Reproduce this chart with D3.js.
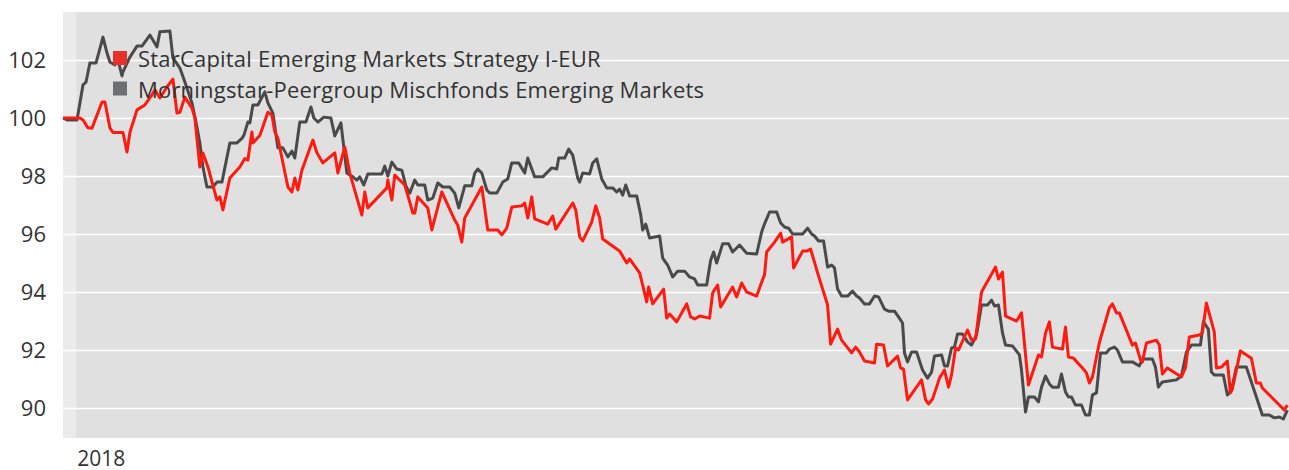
<!DOCTYPE html>
<html lang="de">
<head>
<meta charset="UTF-8">
<script src="https://cdn.jsdelivr.net/npm/d3@7"></script>
<style>
  body { margin: 0; background: #fff; }
  svg text { font-family: "Open Sans", "Noto Sans", sans-serif; fill: #333; }
  .line { fill: none; stroke-width: 3px; stroke-linejoin: round; }
</style>
</head>
<body>
<script>
// Tage seit dem Startdatum (28.12.2017) und Indexwerte (Start = 100)
var startDate = new Date(2017, 11, 28);
var endDate = new Date(2018, 11, 31);
var yearTicks = ["2018"];
var yTicks = [90, 92, 94, 96, 98, 100, 102];
var seriesNames = ["StarCapital Emerging Markets Strategy I-EUR", "Morningstar-Peergroup Mischfonds Emerging Markets"];

var starDays = [0,5.1,6,7.5,8.7,11.7,12.6,14.1,15,18,19.2,20.1,22.2,24.6,26.7,27.6,29.1,31.2,33,34.2,35.1,36.6,38.7,39.6,41.1,42,43.5,46.2,47.1,48,50.1,53.1,54.6,55.5,56.7,57,59.1,61.5,62.7,63.6,64.5,67.5,68.7,69.6,70.5,71.7,75,76.2,78,81.6,82.5,84.6,86.1,89.7,90.6,91.5,97.2,97.5,98.7,99.6,102.6,104.1,105,105.6,106.5,109.5,110.7,113.7,117.6,118.5,119.7,120.6,125.7,127.5,130.5,131.7,133.2,134.7,137.7,138.6,139.5,140.7,141.6,145.5,147,147.9,153,153.9,155.1,156,158.7,159.9,161.1,162,166.2,167.1,169.2,170.1,173.1,174,175.2,175.8,177,180.3,181.2,182.1,184.2,187.2,188.4,189.6,191.1,194.1,195,196.5,197.4,201,202.2,203.7,205.2,208.2,209.7,210.6,211.2,213.6,215.4,216,218.7,219.3,222,223.2,224.4,226.5,229.5,230.4,232.5,233.7,236.7,237.9,239.1,240.6,243.6,244.2,246.3,247.5,250.5,251.4,252.3,253.5,257.7,258.9,259.8,261,262.2,263.1,264.6,265.8,266.7,267.9,268.8,271.5,272.7,273.9,275.7,279.9,280.8,282,282.9,286.2,287.7,289.8,292.8,293.7,294.9,296.1,297,300,300.9,301.8,303.3,306,307.2,308.1,309,311.1,314.1,315,316.2,317.1,321,321.9,323.4,324,325.2,328.2,329.1,330,331.5,335.7,336.9,338.1,341.1,342,343.2,345.6,346.2,347.7,349.5,350.4,351,353.4,356.7,358.2,359.4,360,366.6,367.5];
var starValues = [100,100,99.93,99.66,99.65,100.55,100.55,99.66,99.5,99.5,98.83,99.5,100.28,100.45,100.8,100.97,100.69,101.07,101.34,100.17,100.2,100.72,100.34,100,98.31,98.79,98.31,97.17,97.28,96.83,97.93,98.31,98.6,98.55,99.52,99.14,99.4,100.2,100.1,99.52,99.3,97.62,97.45,97.93,97.52,98.2,99.24,98.8,98.45,98.8,98.1,99,98.1,96.65,97.45,96.9,97.59,97.86,97.17,98.03,97.69,97.1,96.72,96.72,97.28,96.9,96.14,97.45,96.48,96.3,95.72,96.55,97.62,96.14,96.14,95.97,96.2,96.93,96.97,97.07,96.55,97.28,96.52,96.34,96.62,96.17,97.07,96.83,95.9,95.76,96.41,96.97,96.55,95.83,95.48,95.41,95,95.14,94.66,94.24,93.66,94.17,93.59,94.1,93.1,93.24,92.97,93.59,93.14,93.07,93.17,93.1,93.97,94.24,93.48,94.17,93.83,94.31,94,93.86,94.34,94.6,95.38,95.72,96.03,95.72,95.9,94.83,95.41,95.41,95.48,94.66,93.55,92.2,92.72,92.34,91.9,92.1,91.93,91.62,91.55,92.2,92.17,91.45,91.79,91.38,91.34,90.28,90.97,90.28,90.14,90.31,90.72,91.03,91.31,90.72,91.14,92.07,92,92.69,92.34,92.38,94,94.86,94.45,94.69,93.17,93,93.28,90.79,91.83,91.76,92.59,92.97,92.1,92.03,92.79,91.76,91.72,91.38,91.21,90.86,91.07,92.26,93.45,93.59,93.28,93.28,92.17,92.24,91.66,91.59,92.24,92.34,92.17,91.17,91.38,91.07,91.38,92.45,92.52,92.59,93.62,92.62,91.38,91.41,91.62,90.52,90.66,91.97,91.72,90.86,90.86,90.69,89.93,90.1];

var peerDays = [0,1.2,4.2,5.1,6,6.9,8.1,9.9,12,13.2,14.1,15.6,16.5,17.7,18,20.1,22.2,23.7,26.1,28.2,29.1,32.1,33,35.1,36.6,38.7,39.9,41.1,42,43.2,45,46.2,47.7,50.1,52.2,53.7,54.3,55.5,56.1,57,58.5,60.6,61.5,63,64.5,66,67.5,68.7,69.6,71.1,72.9,74.4,75.3,76.5,78.3,80.4,81.6,83.4,85.2,87,88.2,89.1,90.3,91.5,95.7,96.6,97.5,98.7,100.2,101.7,102.9,104.1,105.6,106.5,108.6,109.5,111,112.5,114,116.1,117.6,118.8,120.6,122.7,123.6,124.5,125.7,127.2,128.1,130.2,132,133.5,134.7,136.8,138.6,139.5,141.6,144,146.7,148.2,148.8,150.6,151.8,153,154.5,155.1,156,158.1,159,160.2,161.7,163.2,165,166.2,167.1,168,168.9,170.1,172.2,173.4,174,174.9,176.1,179.1,180,181.5,183,184.5,186.6,188.1,189.6,190.5,193.2,194.4,195.3,196.2,198,199.8,201,203.1,205.2,208.2,209.7,210.6,212.1,214.2,215.4,216.6,217.8,219,222,223.5,224.7,225.6,226.8,228.3,229.5,230.7,231.6,232.5,233.7,235.5,237,238.2,239.1,240.6,242.1,243.6,244.8,246.6,247.8,249.6,250.8,252,252.6,253.5,254.7,256.2,258,259.5,260.7,261.6,263.7,264.6,265.5,266.7,267.6,268.5,270,271.5,272.7,274.2,275.7,277.5,278.7,279.6,280.8,282,282.9,285,287.1,287.7,288.9,289.8,291.6,292.8,293.7,294.9,296.1,297,298.8,299.7,300.9,301.8,302.7,303.9,305.7,306.9,308.1,309,310.2,311.4,313.2,314.1,315.6,316.5,318,321,323.1,324,327,327.9,328.8,330,334.2,335.7,337.2,338.7,341.4,342.3,343.8,344.7,345.6,348.3,349.5,350.7,352.2,355.2,358.2,360,362.1,363.6,365.1,366.3,367.5];
var peerValues = [100,99.93,99.93,100.52,101.14,101.24,101.9,101.9,102.79,102.24,101.93,101.83,102,101.45,101.59,102.1,102.48,102.48,102.86,102.45,102.97,103,102.07,101.72,101.24,100.52,99.86,99.14,98.31,97.62,97.62,97.79,97.79,99.14,99.14,99.3,99.4,99.86,99.83,100.45,100.45,100.9,100.52,100.17,98.97,98.97,98.66,98.86,98.62,99.86,99.86,100.38,100,99.86,100.03,100,99.38,99.83,98.1,97.97,97.86,97.97,97.69,98.07,98.07,98.34,98,98.48,98.24,98.2,97.66,97.41,97.86,97.69,97.69,97.17,97.24,97.76,97.62,97.62,97.41,96.9,97.66,97.66,98.1,98.24,98.1,97.52,97.41,97.41,97.79,97.9,98.45,98.45,98.1,98.62,97.97,97.97,98.28,98.24,98.62,98.62,98.93,98.72,97.93,97.79,98.1,98.07,98.45,98.59,97.9,97.59,97.59,97.45,97.55,97.34,97.69,97.31,97.31,96.66,96.14,96.34,95.86,95.93,95.17,94.93,94.52,94.72,94.72,94.52,94.45,94.24,94.24,95.1,95.38,95,95.66,95.66,95.38,95.62,95.34,95.31,96.07,96.35,96.76,96.76,96.38,96.24,96.2,96,96,96.2,96,95.93,95.76,95.76,94.86,94.93,94.83,94.1,93.86,93.86,94.03,93.86,93.79,93.59,93.59,93.86,93.83,93.41,93.34,93.34,93.14,92.93,91.9,91.59,91.93,91.93,91.31,91.03,91.24,91.79,91.83,91.45,91.45,92.07,92.1,92.55,92.55,92.28,92.17,92.52,93.55,93.55,93.72,93.52,93.55,92.59,92.17,92.14,91.83,91.31,89.86,90.38,90.38,90.21,90.72,91.1,90.83,90.72,90.72,91.17,90.55,90.38,90.38,90.1,90.1,89.76,89.76,90.45,90.52,91.9,91.9,92.03,92.1,92,91.59,91.59,91.45,91.69,91.69,91.41,90.72,90.9,90.97,91.1,91.93,92.17,92.17,92.97,92.72,91.24,91.14,91.14,90.45,90.62,91.41,91.41,90.38,89.76,89.76,89.66,89.69,89.62,89.93];

var colors = ["#ff1a10", "#4a4a4a"];
var legendColors = ["#e8302a", "#6d6e72"];

var width = 1289, height = 470;
var plotLeft = 63, plotRight = 1289, plotTop = 12, plotBottom = 438;

var svg = d3.select("body").append("svg")
  .attr("width", width).attr("height", height);

var x = d3.scaleTime().domain([startDate, endDate]).range([plotLeft, plotRight]);
var y = d3.scaleLinear().domain([88.966, 103.655]).range([plotBottom, plotTop]);

function toDate(d) { return d3.timeHour.offset(startDate, Math.round(d * 24)); }

// Hintergrund
svg.append("rect")
  .attr("x", plotLeft).attr("y", plotTop)
  .attr("width", plotRight - plotLeft).attr("height", plotBottom - plotTop)
  .attr("fill", "#e0e0e0");

var year2018 = new Date(2018, 0, 1);
svg.append("rect")
  .attr("x", plotLeft).attr("y", plotTop)
  .attr("width", x(year2018) - plotLeft).attr("height", plotBottom - plotTop)
  .attr("fill", "#ebebeb");

// Gitter
var grid = svg.append("g")
  .attr("transform", "translate(" + plotLeft + ",0)")
  .call(d3.axisLeft(y).tickValues(yTicks).tickSize(-(plotRight - plotLeft)).tickFormat(""));
grid.select(".domain").remove();
grid.selectAll("line").attr("stroke", "#fff").attr("stroke-width", 1.5);

// Y-Beschriftung
var yAxis = svg.append("g")
  .attr("transform", "translate(" + 46 + ",0)")
  .call(d3.axisLeft(y).tickValues(yTicks).tickSize(0).tickPadding(0));
yAxis.select(".domain").remove();
yAxis.selectAll("text")
  .attr("font-size", 22)
  .attr("font-family", "Open Sans, Noto Sans, sans-serif")
  .attr("fill", "#333");

// X-Beschriftung
svg.selectAll(".year").data(yearTicks).enter().append("text")
  .attr("class", "year")
  .attr("x", function(d) { return x(new Date(+d, 0, 1)) + 1; })
  .attr("y", 466)
  .attr("font-size", 21)
  .text(function(d) { return d; });

var line = d3.line()
  .x(function(d) { return x(toDate(d[0])); })
  .y(function(d) { return y(d[1]); });

var series = [
  d3.zip(peerDays, peerValues),
  d3.zip(starDays, starValues)
];

svg.append("path").attr("class", "line")
  .attr("d", line(series[0])).attr("stroke", colors[1]);
svg.append("path").attr("class", "line")
  .attr("d", line(series[1])).attr("stroke", colors[0]);

// Legende
var legend = svg.append("g").attr("transform", "translate(113,51)");
seriesNames.forEach(function(name, i) {
  legend.append("rect")
    .attr("x", 0).attr("y", i * 30.5)
    .attr("width", 14).attr("height", 14)
    .attr("fill", legendColors[i]);
  legend.append("text")
    .attr("x", 25).attr("y", i * 30.5 + 16)
    .attr("font-size", 22)
    .attr("letter-spacing", 0.2)
    .text(name);
});
</script>
</body>
</html>
